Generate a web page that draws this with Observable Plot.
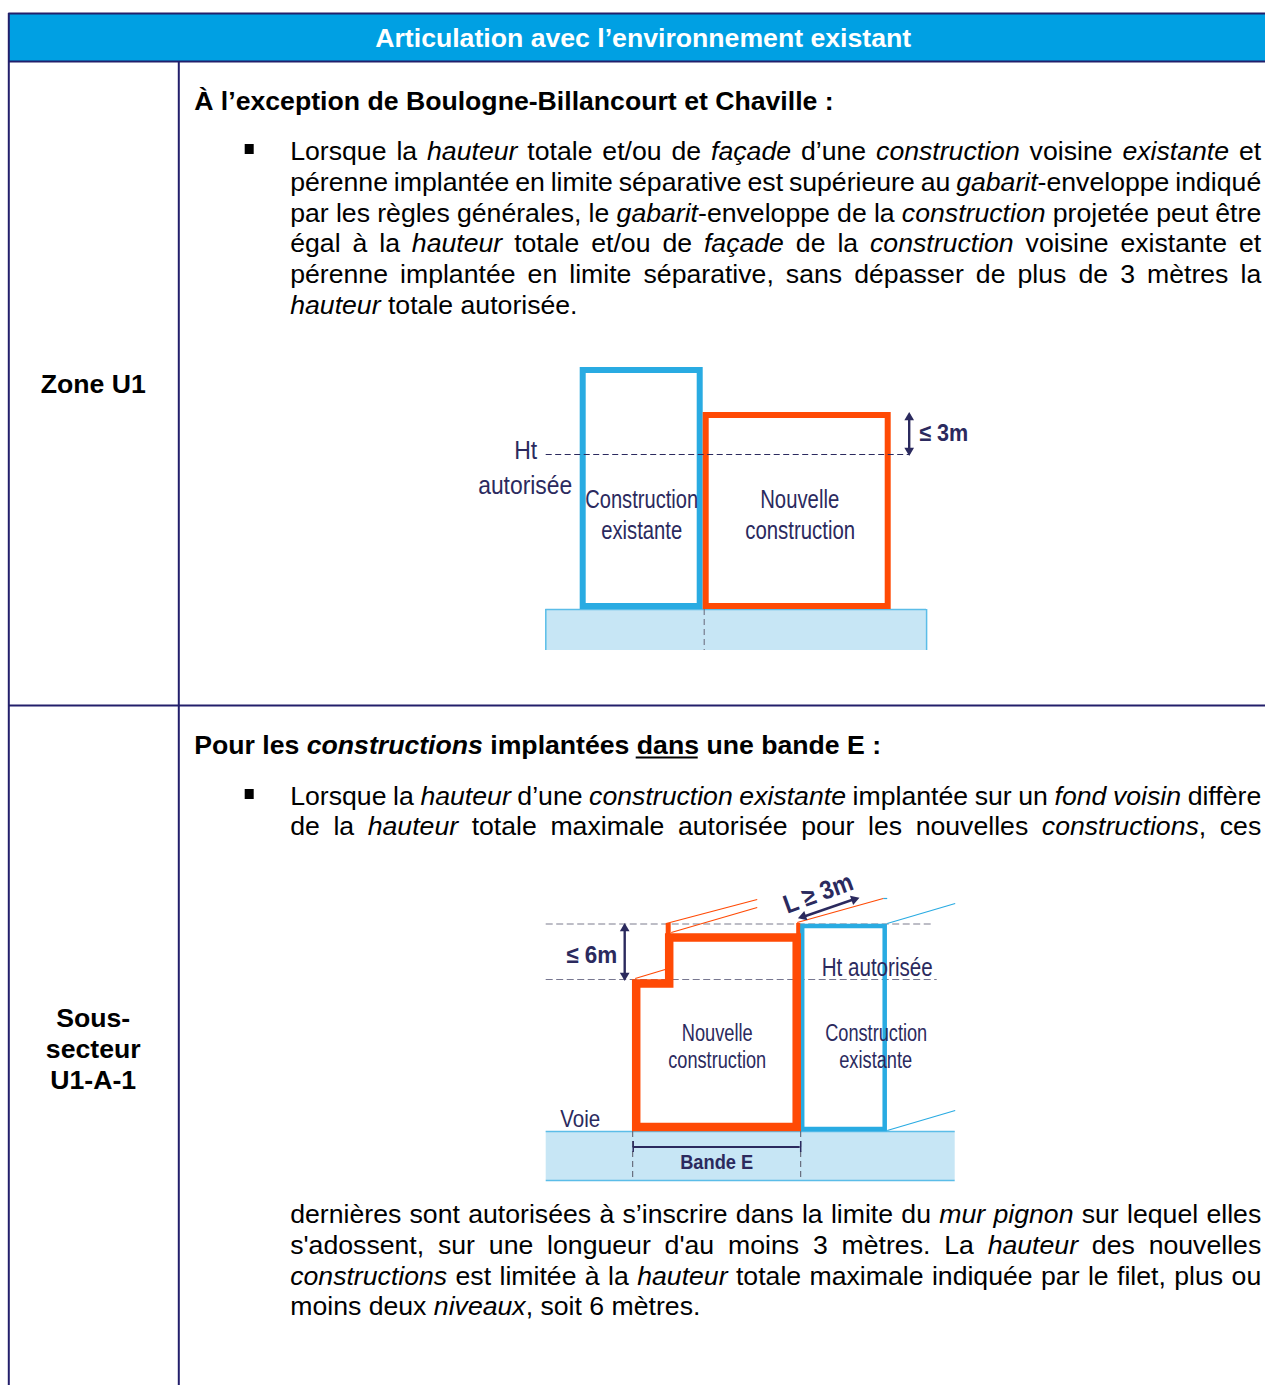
<!DOCTYPE html>
<html><head><meta charset="utf-8">
<script src="https://cdn.jsdelivr.net/npm/d3@7"></script>
<script src="https://cdn.jsdelivr.net/npm/@observablehq/plot@0.6"></script>
<style>html,body{margin:0;padding:0;background:#fff;overflow:hidden}svg{display:block;max-width:none!important}</style>
</head><body><div id="chart"></div>
<script>
// Page text: *...* marks italics. [y, justified, text]
const para1 = [
 [151,1,"Lorsque la *hauteur* totale et/ou de *façade* d’une *construction* voisine *existante* et"],
 [182,1,"pérenne implantée en limite séparative est supérieure au *gabarit*-enveloppe indiqué"],
 [213,1,"par les règles générales, le *gabarit*-enveloppe de la *construction* projetée peut être"],
 [243,1,"égal à la *hauteur* totale et/ou de *façade* de la *construction* voisine existante et"],
 [274,1,"pérenne implantée en limite séparative, sans dépasser de plus de 3 mètres la"],
 [305,0,"*hauteur* totale autorisée."]
];
const para2 = [
 [796,1,"Lorsque la *hauteur* d’une *construction existante* implantée sur un *fond voisin* diffère"],
 [826,1,"de la *hauteur* totale maximale autorisée pour les nouvelles *constructions*, ces"]
];
const para3 = [
 [1214,1,"dernières sont autorisées à s’inscrire dans la limite du *mur pignon* sur lequel elles"],
 [1245,1,"s'adossent, sur une longueur d'au moins 3 mètres. La *hauteur* des nouvelles"],
 [1276,1,"*constructions* est limitée à la *hauteur* totale maximale indiquée par le filet, plus ou"],
 [1306,0,"moins deux *niveaux*, soit 6 mètres."]
];
const boldLines = [
 [101,0,"À l’exception de Boulogne-Billancourt et Chaville :"],
 [745,0,"Pour les *constructions* implantées dans une bande E :"]
];
const headerTitle = "Articulation avec l’environnement existant";
const rowLabels = [
 {t:"Zone U1",y:384},{t:"Sous-",y:1018},{t:"secteur",y:1049},{t:"U1-A-1",y:1080}
];
const bullets = [149,794];
// Table rules
const tableH = [{y:13,x1:8.6,x2:1266},{y:61,x1:8.6,x2:1266},{y:705,x1:8.6,x2:1266}];
const tableV = [{x:8.6,y1:13,y2:1385},{x:178.6,y1:61,y2:1385}];
const underlined = [{x1:636,x2:698,y:757}];

// Diagram 1
const d1Ground = {x1:545.6,x2:926.4,y1:609,y2:650};
const d1Blue = {x1:583,x2:700,y1:370,y2:606};
const d1Orange = {x1:706,x2:888,y1:415,y2:606};
const labels = [
 {t:"Ht",x:525.5,y:450,w:23,fs:26},{t:"autorisée",x:525,y:485,w:94,fs:26},
 {t:"Construction",x:641.5,y:499,w:113,fs:25.5},{t:"existante",x:641.5,y:530,w:81,fs:25.5},
 {t:"Nouvelle",x:799.5,y:499,w:79,fs:25.5},{t:"construction",x:800,y:530,w:110,fs:25.5},
 {t:"Ht autorisée",x:877,y:967,w:111,fs:25},{t:"Nouvelle",x:717,y:1033,w:71,fs:23},
 {t:"construction",x:717,y:1060,w:98,fs:23},{t:"Construction",x:876,y:1033,w:102,fs:23},
 {t:"existante",x:875.5,y:1060,w:73,fs:23},{t:"Voie",x:580,y:1119,w:40,fs:24}
];
const boldLabels = [
 {t:"≤ 3m",x:943.5,y:432.5,w:49,fs:24,rot:0},{t:"≤ 6m",x:591.5,y:955,w:51,fs:24,rot:0},
 {t:"L ≥ 3m",x:818,y:893,w:72,fs:26,rot:-20},{t:"Bande E",x:716.5,y:1162,w:73,fs:21,rot:0}
];
// Diagram 2
const d2Ground = {x1:546,x2:955,y1:1131,y2:1180};
const d2Orange = [[636,1126.5],[636,983],[669,983],[669,937],[796.5,937],[796.5,1126.5],[636,1126.5]];
const d2Blue = {x1:802.5,x2:885,y1:926,y2:1129};
const d2Stubs = [{x:668,y1:923,y2:937,w:5},{x:798,y1:923,y2:937,w:4}];
const d2RoofOrange = [
 {x1:666,y1:923,x2:757,y2:899},{x1:671,y1:932,x2:757,y2:907},
 {x1:635,y1:978,x2:665,y2:969},{x1:797,y1:922,x2:883,y2:898}
];
const d2RoofBlue = [
 {x1:883,y1:898,x2:887,y2:898},{x1:887,y1:923,x2:955,y2:903},{x1:887,y1:1130,x2:955,y2:1110}
];
const arrowLines = [
 {x1:909,y1:414,x2:909,y2:453},{x1:624.5,y1:925,x2:624.5,y2:978},{x1:801,y1:917,x2:856,y2:898}
];
const arrowHeads = [
 {x:909,y:417,rot:0},{x:909,y:450,rot:180},{x:624.5,y:928,rot:0},{x:624.5,y:975,rot:180},
 {x:803,y:916,rot:251},{x:854,y:899,rot:71}
];

const FS = 26.65;
const FAMILY = "Liberation Sans, Arial, sans-serif";
const ctx = document.createElement("canvas").getContext("2d");
function width(s,bold,it){ctx.font=`${it?"italic ":""}${bold?"bold ":""}${FS}px Liberation Sans`;return ctx.measureText(s).width;}
function layout(lines,left,right,bold){
  const out=[];
  for(const [y,just,raw] of lines){
    const toks=[];
    raw.split("*").forEach((run,i)=>{
      for(const p of run.split(/( +)/)) if(p) toks.push({t:p,it:i%2==1});
    });
    const nat=d3.sum(toks,k=>width(k.t,bold,k.it));
    const spaces=toks.filter(k=>!k.t.trim()).length;
    const extra=just?(right-left-nat)/spaces:0;
    let x=left;
    for(const k of toks){
      if(k.t.trim()) out.push({t:k.t,x,y,it:k.it});
      else x+=extra;
      x+=width(k.t,bold,k.it);
    }
  }
  return out;
}
const body=[...layout(para1,290,1261,false),...layout(para2,290,1261,false),...layout(para3,290,1261,false)];
const heads=layout(boldLines,194,1261,true);
const NAVY="#2b2a5e",LINE="#231f6b",ORANGE="#ff4a05",BLUE="#29abe2",GROUND="#c7e6f5",GLINE="#5bbde8";
const txt=(data,o)=>Plot.text(data,{x:"x",y:"y",text:"t",fontFamily:FAMILY,fill:"#000",...o});
// Condense the diagram lettering to the reference's measured widths
const squeeze=(data)=>function(index,scales,values,dims,context,next){
  const g=next(index,scales,values,dims,context);
  d3.select(g).selectAll("text").each(function(_,i){
    this.setAttribute("textLength",data[index[i]].w);
    this.setAttribute("lengthAdjust","spacingAndGlyphs");
  });
  return g;
};

const chart=Plot.plot({
 width:1265,height:1385,margin:0,
 x:{domain:[0.3,1265.3],axis:null},y:{domain:[1385,0],axis:null},
 marks:[
  Plot.rect([{x1:8.6,x2:1266,y1:13,y2:61}],{x1:"x1",x2:"x2",y1:"y1",y2:"y2",fill:"#00a0e3"}),
  Plot.ruleY(tableH,{y:"y",x1:"x1",x2:"x2",stroke:LINE,strokeWidth:2}),
  Plot.ruleX(tableV,{x:"x",y1:"y1",y2:"y2",stroke:LINE,strokeWidth:2}),
  Plot.text([headerTitle],{x:()=>643,y:()=>38,text:d=>d,fill:"#fff",fontFamily:FAMILY,fontWeight:"bold",fontSize:FS}),
  Plot.text(rowLabels,{x:()=>93,y:"y",text:"t",fontFamily:FAMILY,fontWeight:"bold",fontSize:FS,fill:"#000"}),
  txt(heads.filter(d=>!d.it),{fontWeight:"bold",fontSize:FS,textAnchor:"start"}),
  txt(heads.filter(d=>d.it),{fontWeight:"bold",fontStyle:"italic",fontSize:FS,textAnchor:"start"}),
  txt(body.filter(d=>!d.it),{fontSize:FS,textAnchor:"start"}),
  txt(body.filter(d=>d.it),{fontStyle:"italic",fontSize:FS,textAnchor:"start"}),
  Plot.ruleY(underlined,{y:"y",x1:"x1",x2:"x2",stroke:"#000",strokeWidth:2}),
  Plot.rect(bullets,{x1:()=>245,x2:()=>254,y1:d=>d-5,y2:d=>d+5,fill:"#000"}),
  // diagram 1
  Plot.rect([d1Ground],{x1:"x1",x2:"x2",y1:"y1",y2:"y2",fill:GROUND}),
  Plot.ruleX([d1Ground.x1,d1Ground.x2],{y1:d1Ground.y1,y2:d1Ground.y2,stroke:GLINE,strokeWidth:1.5}),
  Plot.ruleY([d1Ground.y1],{x1:d1Ground.x1,x2:d1Ground.x2,stroke:GLINE,strokeWidth:1.5}),
  Plot.ruleX([704],{y1:609,y2:650,stroke:"#667",strokeWidth:1,strokeDasharray:"6,4"}),
  Plot.rect([d1Blue],{x1:"x1",x2:"x2",y1:"y1",y2:"y2",fill:"none",stroke:BLUE,strokeWidth:6}),
  Plot.rect([d1Orange],{x1:"x1",x2:"x2",y1:"y1",y2:"y2",fill:"none",stroke:ORANGE,strokeWidth:6}),
  Plot.ruleY([454],{x1:546,x2:910,stroke:NAVY,strokeWidth:1.2,strokeDasharray:"6,3.5"}),
  // diagram 2
  Plot.rect([d2Ground],{x1:"x1",x2:"x2",y1:"y1",y2:"y2",fill:GROUND}),
  Plot.ruleY([d2Ground.y1,d2Ground.y2],{x1:d2Ground.x1,x2:d2Ground.x2,stroke:GLINE,strokeWidth:1.5}),
  Plot.ruleX([632.5,800.5],{y1:1131,y2:1180,stroke:"#556",strokeWidth:1,strokeDasharray:"6,4"}),
  Plot.ruleY([923.5],{x1:546,x2:933,stroke:"#a8a8b4",strokeWidth:1.5,strokeDasharray:"7,3.5"}),
  Plot.ruleY([979],{x1:546,x2:937,stroke:"#777790",strokeWidth:1.2,strokeDasharray:"7,3.5"}),
  Plot.link(d2RoofBlue,{x1:"x1",y1:"y1",x2:"x2",y2:"y2",stroke:BLUE,strokeWidth:1.2}),
  Plot.rect([d2Blue],{x1:"x1",x2:"x2",y1:"y1",y2:"y2",fill:"none",stroke:BLUE,strokeWidth:4.5}),
  Plot.link(d2RoofOrange,{x1:"x1",y1:"y1",x2:"x2",y2:"y2",stroke:ORANGE,strokeWidth:1.2}),
  Plot.ruleX(d2Stubs,{x:"x",y1:"y1",y2:"y2",stroke:ORANGE,strokeWidth:"w"}),
  Plot.line(d2Orange,{x:"0",y:"1",stroke:ORANGE,strokeWidth:8.5,strokeLinejoin:"miter",strokeMiterlimit:10,strokeLinecap:"square"}),
  Plot.link(arrowLines,{x1:"x1",y1:"y1",x2:"x2",y2:"y2",stroke:NAVY,strokeWidth:2.4}),
  Plot.dot(arrowHeads,{x:"x",y:"y",rotate:"rot",symbol:"triangle",r:3.6,fill:NAVY}),
  Plot.ruleY([1146.5],{x1:633,x2:800,stroke:NAVY,strokeWidth:2.2}),
  Plot.ruleX([633,800.5],{y1:1141,y2:1152,stroke:NAVY,strokeWidth:1.5}),
  Plot.text(labels,{x:"x",y:"y",text:"t",fontSize:"fs",fontFamily:FAMILY,fill:NAVY,render:squeeze(labels)}),
  Plot.text(boldLabels,{x:"x",y:"y",text:"t",fontSize:"fs",rotate:"rot",fontFamily:FAMILY,fontWeight:"bold",fill:NAVY,render:squeeze(boldLabels)})
 ]
});
document.getElementById("chart").append(chart);
</script></body></html>
